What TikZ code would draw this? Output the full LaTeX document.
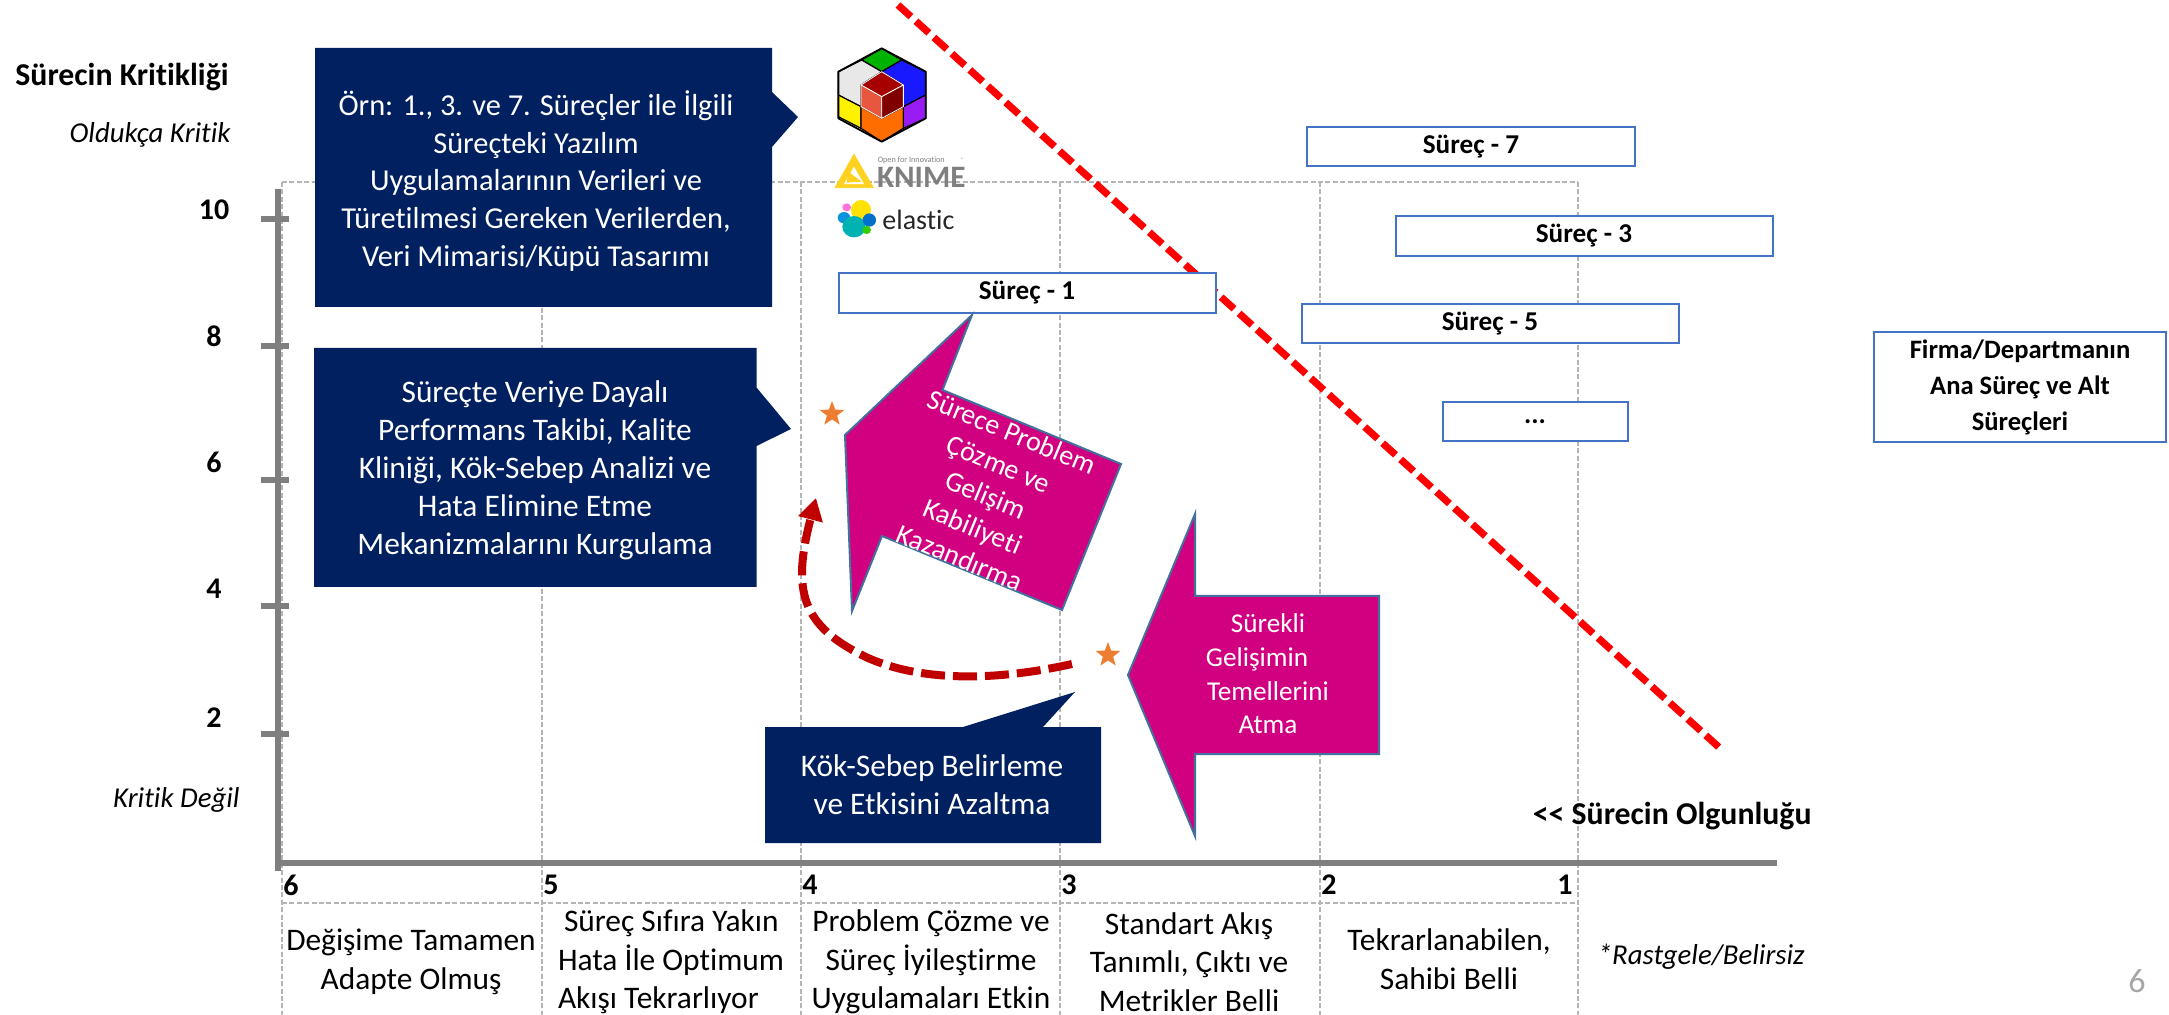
\documentclass[tikz,border=0pt]{standalone}
\usepackage{fontspec}
\setmainfont{Carlito}[Ligatures={TeX,NoCommon}]
\usetikzlibrary{arrows.meta}
\usetikzlibrary{shapes.geometric}
\definecolor{navybox}{HTML}{002060}
\definecolor{magentabox}{HTML}{D10080}
\definecolor{arrowedge}{HTML}{41719C}
\definecolor{surecedge}{HTML}{4472C4}
\definecolor{axisgray}{HTML}{7F7F7F}
\definecolor{gridgray}{HTML}{B5B5B5}
\definecolor{staror}{HTML}{ED7D31}
\definecolor{curvered}{HTML}{C00000}
\definecolor{knimey}{HTML}{FFD21F}
\definecolor{cubeviolet}{HTML}{9A1CF5}
\tikzset{grid/.style={gridgray,line width=0.6pt,dash pattern=on 2.5pt off 1.2pt}}
\tikzset{ax/.style={axisgray,line width=3.2pt}}
\tikzset{navy/.style={fill=navybox,draw=none}}
\tikzset{mag/.style={fill=magentabox,draw=arrowedge,line width=1pt,line join=miter}}
\tikzset{wt/.style={white,align=center,inner sep=0pt,font=\fontsize{15.2}{18.9}\selectfont}}
\tikzset{wtb/.style={wt,font=\fontsize{15.7}{19}\selectfont}}
\tikzset{surec/.style={draw=surecedge,fill=white,line width=1pt,inner sep=0pt,font=\fontsize{13.6}{13.6}\bfseries\selectfont}}
\tikzset{num/.style={inner sep=0pt,font=\fontsize{15}{15}\bfseries\selectfont}}
\tikzset{lvl/.style={align=center,inner sep=0pt,font=\fontsize{15.7}{19.3}\selectfont}}
\tikzset{it/.style={inner sep=0pt,font=\fontsize{14.4}{14.4}\itshape\selectfont}}
\tikzset{bld/.style={inner sep=0pt,font=\fontsize{15.9}{15.9}\bfseries\selectfont}}
\tikzset{starmark/.style={star,star points=5,star point ratio=2.4,fill=staror,inner sep=0pt,minimum size=13pt}}
\begin{document}
\begin{tikzpicture}[x=0.5pt,y=-0.5pt]
  \useasboundingbox (0,0) rectangle (2169,1015);

  \draw [grid] (282,182) -- (1578,182);
  \draw [grid] (282,903) -- (1578,903);
  \draw [grid] (282,182) -- (282,1015);
  \draw [grid] (542,182) -- (542,1015);
  \draw [grid] (801,182) -- (801,1015);
  \draw [grid] (1060,182) -- (1060,1015);
  \draw [grid] (1320,182) -- (1320,1015);
  \draw [grid] (1578,182) -- (1578,1015);

  \draw [ax] (278,189) -- (278,871);
  \draw [ax] (275,863) -- (1777,863);
  \draw [ax] (261,219) -- (289,219);
  \draw [ax] (261,346) -- (289,346);
  \draw [ax] (261,480) -- (289,480);
  \draw [ax] (261,606) -- (289,606);
  \draw [ax] (261,734) -- (289,734);

  \node [bld,anchor=west] (title) at (15,77) {Sürecin Kritikliği};
  \node [it,anchor=east] (high) at (231,135) {Oldukça Kritik};
  \node [it,anchor=east] (low) at (240,800) {Kritik Değil};
  \node [num] (y10) at (214,210) {10};
  \node [num] (y8) at (214,336) {8};
  \node [num] (y6) at (214,462) {6};
  \node [num] (y4) at (214,589) {4};
  \node [num] (y2) at (214,718) {2};
  \node [num,anchor=west] (x6) at (283,885) {6};
  \node [num,anchor=west] (x5) at (543,885) {5};
  \node [num,anchor=west] (x4) at (802,885) {4};
  \node [num,anchor=west] (x3) at (1061,885) {3};
  \node [num,anchor=west] (x2) at (1321,885) {2};
  \node [num,anchor=east] (x1) at (1573,885) {1};
  \node [bld,anchor=east] (olgun) at (1812,816) {<{}< Sürecin Olgunluğu};
  \node [it,anchor=east] (rast) at (1805,957) {*Rastgele/Belirsiz};
  \node [lvl] (lvlA) at (411,962) {Değişime Tamamen\\Adapte Olmuş};
  \node [lvl,align=left] (lvlB) at (671,962) {\hspace*{3pt}Süreç Sıfıra Yakın\\Hata İle Optimum\\Akışı Tekrarlıyor};
  \node [lvl] (lvlC) at (931,962) {Problem Çözme ve\\Süreç İyileştirme\\Uygulamaları Etkin};
  \node [lvl] (lvlD) at (1189,962) {Standart Akış\\Tanımlı, Çıktı ve\\Metrikler Belli};
  \node [lvl] (lvlE) at (1449,959) {Tekrarlanabilen,\\Sahibi Belli};
  \node [inner sep=0pt,gray!70,font=\fontsize{17}{17}\selectfont] (page) at (2137,981) {6};

  \draw [red,line width=3.6pt,dash pattern=on 8.7pt off 3.4pt] (898,5) -- (1722,750);

  \node [surec,minimum width=188.5pt,minimum height=20pt] (s1) at (1027,293) {Süreç - 1};
  \node [surec,minimum width=164pt,minimum height=19.5pt] (s7) at (1471,146.5) {Süreç - 7};
  \node [surec,minimum width=188.5pt,minimum height=20pt] (s3) at (1584,236) {Süreç - 3};
  \node [surec,minimum width=188.5pt,minimum height=19.5pt] (s5) at (1490,323.5) {Süreç - 5};
  \node [surec,minimum width=92.5pt,minimum height=19.5pt] (s0) at (1535,421.5) {...};
  \node [surec,align=center,minimum width=146pt,minimum height=55pt,font=\fontsize{13.3}{18}\bfseries\selectfont] (firma) at (2020,387) {Firma/Departmanın\\Ana Süreç ve Alt\\Süreçleri};

  \filldraw [navy] (315,48) -- (772,48) -- (772,92) -- (798,117) -- (772,147) -- (772,307) -- (315,307) -- cycle;
  \node [wt] (ornek) at (536,181) {Örn: 1., 3. ve 7. Süreçler ile İlgili\\Süreçteki Yazılım\\Uygulamalarının Verileri ve\\Türetilmesi Gereken Verilerden,\\Veri Mimarisi/Küpü Tasarımı};
  \filldraw [navy] (314,348) -- (756.5,348) -- (756.5,387.5) -- (791,429) -- (756.5,446) -- (756.5,587) -- (314,587) -- cycle;
  \node [wtb] (takip) at (535,470) {Süreçte Veriye Dayalı\\Performans Takibi, Kalite\\Kliniği, Kök-Sebep Analizi ve\\Hata Elimine Etme\\Mekanizmalarını Kurgulama};
  \filldraw [navy] (765,727) -- (963,727) -- (1075,692) -- (1043,727) -- (1101,727) -- (1101,843) -- (765,843) -- cycle;
  \node [wtb] (kok) at (932,785) {Kök-Sebep Belirleme\\ve Etkisini Azaltma};

  \filldraw [mag] (972,315) -- (942.5,390) -- (1121,464) -- (1062,610) -- (882,536) -- (852,611) -- (845,435) -- cycle;
  \node [wt,rotate=-22.5,font=\fontsize{14}{17}\selectfont] (kabil) at (986,495) {Sürece Problem\\Çözme ve\\Gelişim\\Kabiliyeti\\Kazandırma};
  \filldraw [mag] (1195,514) -- (1195,596) -- (1379,596) -- (1379,754) -- (1195,754) -- (1195,836) -- (1128,675) -- cycle;
  \node [wt,font=\fontsize{13.6}{16.8}\selectfont] (temel) at (1268,674) {Sürekli\\\mbox{Gelişimin\kern11pt}\\Temellerini\\Atma};

  \node [starmark] (starA) at (832,414) {};
  \node [starmark] (starB) at (1108,655) {};
  \coordinate (curveA) at (1072,664);
  \coordinate (curveB) at (868,658);
  \coordinate (curveC) at (816,498);
  \draw [curvered,line width=4pt,dash pattern=on 12pt off 4pt,-{Triangle[length=11pt,width=12pt]}]
    (curveA) .. controls (1000,680) and (925,683) .. (curveB) .. controls (800,626) and (792,590) .. (curveC);

  \begin{scope}[shift={(780,0)},x=0.1667pt,y=-0.1667pt,line join=round]
    \filldraw [black,fill=green!70!black,line width=0.6pt] (305,145) -- (365,180) -- (305,215) -- (245,180) -- cycle;
    \filldraw [black,fill=blue!90!white,line width=0.6pt] (365,180) -- (437,215) -- (437,285) -- (370,320) -- (370,255) -- (305,215) -- cycle;
    \filldraw [black,fill=gray!18,line width=0.6pt] (245,180) -- (305,215) -- (243,255) -- (243,320) -- (175,285) -- (175,215) -- cycle;
    \filldraw [black,fill=yellow,line width=0.6pt] (175,285) -- (243,320) -- (243,385) -- (175,350) -- cycle;
    \filldraw [black,fill=orange!85!red,line width=0.6pt] (243,320) -- (305,355) -- (370,320) -- (370,385) -- (305,425) -- (243,385) -- cycle;
    \filldraw [black,fill=cubeviolet,line width=0.6pt] (370,320) -- (437,285) -- (437,355) -- (370,385) -- cycle;
    \filldraw [white,fill=red!65!black,line width=0.4pt] (305,215) -- (370,255) -- (305,290) -- (243,255) -- cycle;
    \filldraw [white,fill=red!55!brown!85!white,line width=0.4pt] (243,255) -- (305,290) -- (305,355) -- (243,320) -- cycle;
    \filldraw [white,fill=red!50!black,line width=0.4pt] (305,290) -- (370,255) -- (370,320) -- (305,355) -- cycle;
    \draw [black,line width=0.9pt] (305,145) -- (437,215) -- (437,355) -- (305,425) -- (175,355) -- (175,215) -- cycle;

    \filldraw [knimey,line width=0.4pt] (222,463) -- (280,563) -- (165,563) -- cycle;
    \fill [white] (222,500) -- (252,552) -- (192,552) -- cycle;
    \fill [knimey] (205,515) -- (245,545) -- (200,548) -- cycle;
    \node [inner sep=0pt,anchor=west,axisgray,font=\fontsize{4.1}{4.1}\selectfont] (knimeTag) at (292,482) {Open for Innovation};
    \node [inner sep=0pt,axisgray,font=\fontsize{2.5}{2.5}\selectfont] (knimeReg) at (547,480) {®};
    \node [inner sep=0pt,anchor=base west,axisgray,font=\fontsize{15.6}{15.6}\bfseries\selectfont] (knime) at (290,563) {KNIME};

    \fill [pink!60!magenta] (200,622) ellipse (13 and 12);
    \fill [cyan!80!blue] (192,653) ellipse (19 and 17);
    \fill [yellow!85!orange] (243,630) ellipse (30 and 30);
    \fill [teal!60!cyan] (222,680) ellipse (35 and 32);
    \fill [blue!45!cyan!80!black] (268,660) ellipse (20 and 20);
    \fill [green!60!olive] (260,690) ellipse (13 and 12);
    \node [inner sep=0pt,anchor=west,black!85,font=\fontsize{14}{14}\selectfont] (elastic) at (306,660) {elastic};
  \end{scope}
\end{tikzpicture}
\end{document}
